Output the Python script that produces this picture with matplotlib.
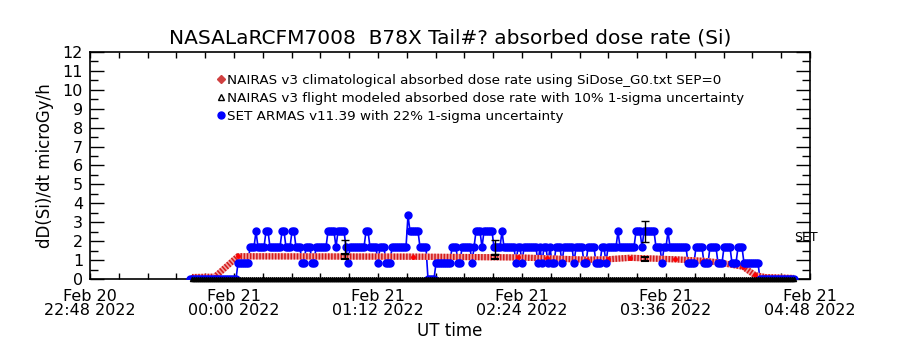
import numpy as np
import matplotlib.pyplot as plt
from matplotlib.lines import Line2D
from matplotlib.ticker import MultipleLocator

# time axis: minutes after Feb 20 22:48 2022 UT
x_ticks = [0, 72, 144, 216, 288, 360]
x_tick_labels = ["Feb 20\n22:48 2022", "Feb 21\n00:00 2022", "Feb 21\n01:12 2022",
                 "Feb 21\n02:24 2022", "Feb 21\n03:36 2022", "Feb 21\n04:48 2022"]

# NAIRAS v3 climatological dose rate (microGy/h)
nairas_t = [51, 62.5, 74, 161.5, 214, 228.5, 248.5, 259, 270, 292.5, 306.5, 314, 326.5, 332.5, 337.5, 352]
nairas_y = [0.10, 0.12, 1.20, 1.18, 1.14, 1.09, 1.02, 1.04, 1.12, 1.04, 0.96, 0.88, 0.65, 0.20, 0.10, 0.05]

# NAIRAS v3 flight modeled: sits on zero over the flight
flight_t0, flight_t1 = 51, 352

# SET ARMAS, one reading per minute, written as runs (start minute, level)
set_run_start = [50, 74, 80, 83, 84, 88, 90, 96, 98, 101, 103, 106, 108, 111, 113, 119, 123, 124,
                 128, 129, 130, 138, 140, 144, 145, 148, 151, 159, 160, 165, 169, 173, 181, 184,
                 186, 191, 192, 193, 196, 197, 202, 206, 207, 213, 214, 216, 217, 224, 225, 226,
                 227, 229, 230, 231, 233, 236, 237, 242, 243, 247, 249, 253, 256, 258, 259, 264,
                 265, 273, 276, 277, 283, 286, 287, 289, 290, 299, 303, 307, 310, 314, 317, 321,
                 324, 327, 335]
set_run_level = [0, 0.84, 1.68, 2.52, 1.68, 2.52, 1.68, 2.52, 1.68, 2.52, 1.68, 0.84, 1.68, 0.84,
                 1.68, 2.52, 1.68, 2.52, 1.68, 0.84, 1.68, 2.52, 1.68, 0.84, 1.68, 0.84, 1.68,
                 3.36, 2.52, 1.68, 0, 0.84, 1.68, 0.84, 1.68, 0.84, 1.68, 2.52, 1.68, 2.52, 1.68,
                 2.52, 1.68, 0.84, 1.68, 0.84, 1.68, 0.84, 1.68, 0.84, 1.68, 0.84, 1.68, 0.84,
                 1.68, 0.84, 1.68, 0.84, 1.68, 0.84, 1.68, 0.84, 1.68, 0.84, 1.68, 2.52, 1.68,
                 2.52, 1.68, 2.52, 1.68, 0.84, 1.68, 2.52, 1.68, 0.84, 1.68, 0.84, 1.68, 0.84,
                 1.68, 0.84, 1.68, 0.84, 0]
set_t_end = 352

# error bars (SET 22%, NAIRAS 10%)
err_t = [127.5, 202.5, 277.5]
err_set_y = [1.68, 1.68, 2.52]
err_nairas_y = [1.20, 1.17, 1.06]

title = "NASALaRCFM7008  B78X Tail#? absorbed dose rate (Si)"
labels = ["NAIRAS v3 climatological absorbed dose rate using SiDose_G0.txt SEP=0",
          "NAIRAS v3 flight modeled absorbed dose rate with 10% 1-sigma uncertainty",
          "SET ARMAS v11.39 with 22% 1-sigma uncertainty"]

# expand the runs to minute readings
bounds = set_run_start + [set_t_end + 1]
set_t, set_y = [], []
for i, lev in enumerate(set_run_level):
    for t in range(bounds[i], bounds[i + 1]):
        set_t.append(t)
        set_y.append(lev)
set_t = np.array(set_t)
set_y = np.array(set_y)

flight_t = np.arange(flight_t0, flight_t1 + 1)

fig = plt.figure(figsize=(9, 3.5), dpi=100)
ax = fig.add_axes([0.1, 0.2029, 0.8, 0.6486])

ax.plot(set_t, set_y, color="blue", lw=1.2, zorder=2)
# hatched look of the climatological band
ax.plot(nairas_t, nairas_y, color="#f2a4a4", lw=4.5, solid_capstyle="butt", zorder=3)
ax.plot(nairas_t, nairas_y, color="#d41c1c", lw=4.5, dashes=(0.25, 0.25), dash_capstyle="butt", zorder=3)
ax.plot(nairas_t, nairas_y, "o", color="red", ms=2.5, zorder=3)
ax.plot(set_t, set_y, "o", color="blue", ms=5, zorder=4)
ax.plot(flight_t, np.zeros(len(flight_t)), "^", color="black", ms=3, zorder=6, clip_on=False)

ax.errorbar(err_t, err_set_y, yerr=0.22 * np.array(err_set_y), fmt="none", ecolor="black",
            elinewidth=1, capsize=3, zorder=5)
ax.errorbar(err_t, err_nairas_y, yerr=0.10 * np.array(err_nairas_y), fmt="none", ecolor="black",
            elinewidth=1, capsize=3, capthick=1.5, zorder=5)

ax.text(352, 2.2, "SET", fontsize=9, va="center", ha="left")

ax.set_xlim(0, 360)
ax.set_ylim(0, 12)
ax.set_xticks(x_ticks)
ax.set_xticklabels(x_tick_labels, fontsize=11.5, linespacing=0.95)
ax.xaxis.set_minor_locator(MultipleLocator(14.4))
ax.set_yticks(range(0, 13))
ax.set_yticklabels([str(v) for v in range(0, 13)], fontsize=11.5)
ax.yaxis.set_minor_locator(MultipleLocator(0.5))
ax.tick_params(which="both", direction="in", top=True, right=True, width=1)
ax.tick_params(axis="x", which="both", length=4, pad=7)
ax.tick_params(axis="y", which="major", length=10, pad=5)
ax.tick_params(axis="y", which="minor", length=6)
for s in ax.spines.values():
    s.set_linewidth(1.2)

ax.set_title(title, fontsize=14.5, pad=6)
ax.set_ylabel("dD(Si)/dt microGy/h", fontsize=12, labelpad=6)
ax.set_xlabel("UT time", fontsize=12, labelpad=3)

handles = [Line2D([], [], ls="none", marker="D", ms=4, color="#d04040"),
           Line2D([], [], ls="none", marker="^", ms=5, mfc="none", mec="black"),
           Line2D([], [], ls="none", marker="o", ms=5, color="blue")]
ax.legend(handles, labels, loc="upper left", bbox_to_anchor=(0.175, 0.905), frameon=False,
          fontsize=9.7, handlelength=0.7, handletextpad=0.1, labelspacing=0.38,
          borderpad=0, borderaxespad=0)

fig.savefig("out.png", dpi=100)
